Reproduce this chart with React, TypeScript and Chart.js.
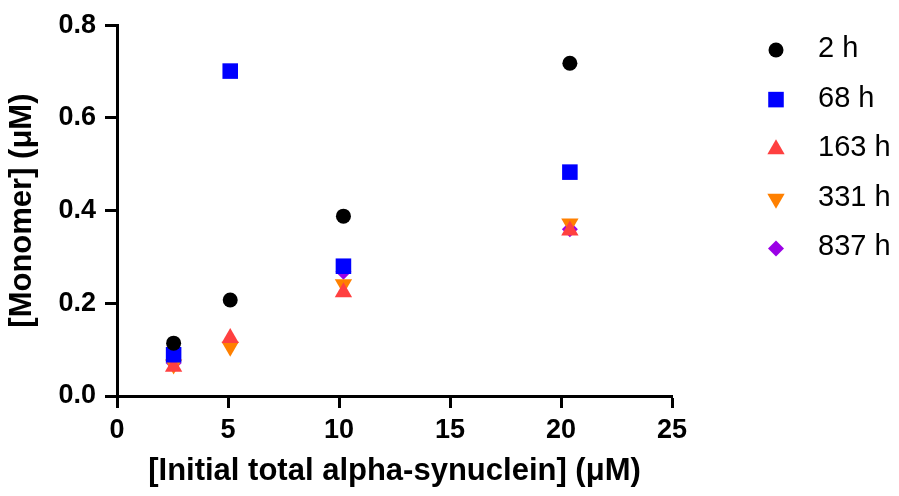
import React, { useEffect, useRef } from "react";
import { Chart, registerables } from "chart.js";

Chart.register(...registerables);

const concentrations = [2.55, 5.1, 10.2, 20.4];
const seriesLabels = ["2 h", "68 h", "163 h", "331 h", "837 h"];
const values2h = [0.114, 0.207, 0.388, 0.718];
const values68h = [0.089, 0.701, 0.28, 0.483];
const values163h = [0.063, 0.125, 0.224, 0.357];
const values331h = [0.068, 0.106, 0.241, 0.372];
const values837h = [0.071, 0.115, 0.268, 0.36];
const xTicks = [0, 5, 10, 15, 20, 25];
const yTicks = [0, 0.2, 0.4, 0.6, 0.8];

const seriesValues = [values2h, values68h, values163h, values331h, values837h];
const colors = ["#000000", "#0000FF", "#FF4040", "#FF8000", "#9B00E6"];
const styles = ["circle", "rect", "triangle", "triangle", "rectRot"];
const rotations = [0, 0, 0, 180, 0];
const radii = [7.5, 11, 10, 10, 8];

const FONT = "'Liberation Sans', Arial, sans-serif";

function drawMarker(ctx: CanvasRenderingContext2D, style: string, x: number, y: number, r: number, rot: number, color: string) {
  ctx.save();
  ctx.fillStyle = color;
  ctx.translate(x, y);
  ctx.rotate((rot * Math.PI) / 180);
  ctx.beginPath();
  if (style === "circle") {
    ctx.arc(0, 0, r, 0, Math.PI * 2);
  } else if (style === "rect") {
    const s = r * Math.SQRT1_2;
    ctx.rect(-s, -s, 2 * s, 2 * s);
  } else if (style === "triangle") {
    ctx.moveTo(0, -r);
    ctx.lineTo(r * Math.sin(Math.PI / 3), r / 2);
    ctx.lineTo(-r * Math.sin(Math.PI / 3), r / 2);
  } else {
    ctx.moveTo(-r, 0);
    ctx.lineTo(0, -r);
    ctx.lineTo(r, 0);
    ctx.lineTo(0, r);
  }
  ctx.closePath();
  ctx.fill();
  ctx.restore();
}

const legendPlugin = {
  id: "customLegend",
  afterDraw(chart: any) {
    const ctx = chart.ctx as CanvasRenderingContext2D;
    ctx.save();
    ctx.font = `29px ${FONT}`;
    ctx.textBaseline = "middle";
    ctx.textAlign = "left";
    ctx.fillStyle = "#000";
    seriesLabels.forEach((label, i) => {
      const y = 50 + i * 49.6;
      drawMarker(ctx, styles[i], 776, y, radii[i], rotations[i], colors[i]);
      ctx.fillText(label, 818, y - 1);
    });
    ctx.restore();
  },
};

export default function App() {
  const ref = useRef<HTMLCanvasElement | null>(null);
  useEffect(() => {
    if (!ref.current) return;
    const chart = new Chart(ref.current, {
      type: "scatter",
      data: {
        datasets: seriesLabels.map((label, i) => ({
          label,
          data: concentrations.map((x, j) => ({ x, y: seriesValues[i][j] })),
          pointStyle: styles[i] as any,
          pointRotation: rotations[i],
          pointRadius: radii[i],
          pointHoverRadius: radii[i],
          backgroundColor: colors[i],
          borderColor: colors[i],
          borderWidth: 0,
          clip: false as any,
        })),
      },
      options: {
        animation: false,
        responsive: false,
        maintainAspectRatio: false,
        events: [],
        layout: { padding: { top: 25, right: 227, left: 0, bottom: 0 } },
        plugins: { legend: { display: false }, tooltip: { enabled: false } },
        scales: {
          x: {
            type: "linear",
            min: 0,
            max: 25,
            afterBuildTicks: (scale: any) => {
              scale.ticks = xTicks.map((v) => ({ value: v }));
            },
            afterFit: (scale: any) => {
              scale.height = 100;
            },
            ticks: {
              color: "#000",
              font: { family: FONT, size: 27, weight: "bold" },
              padding: 6,
              maxRotation: 0,
            },
            grid: {
              display: true,
              drawOnChartArea: false,
              drawTicks: true,
              tickLength: 12,
              tickWidth: 3,
              color: "#000",
            },
            border: { display: true, width: 3, color: "#000" },
            title: {
              display: true,
              text: "[Initial total alpha-synuclein] (μM)",
              color: "#000",
              font: { family: FONT, size: 31, weight: "bold" },
              padding: { top: 0, bottom: 6 },
            },
          },
          y: {
            type: "linear",
            min: 0,
            max: 0.8,
            afterBuildTicks: (scale: any) => {
              scale.ticks = yTicks.map((v) => ({ value: v }));
            },
            afterFit: (scale: any) => {
              scale.width = 117;
            },
            ticks: {
              color: "#000",
              font: { family: FONT, size: 27, weight: "bold" },
              padding: 9,
              callback: (v: any) => Number(v).toFixed(1),
            },
            grid: {
              display: true,
              drawOnChartArea: false,
              drawTicks: true,
              tickLength: 12,
              tickWidth: 3,
              color: "#000",
            },
            border: { display: true, width: 3, color: "#000" },
            title: {
              display: true,
              text: "[Monomer] (μM)",
              color: "#000",
              font: { family: FONT, size: 31, weight: "bold" },
              padding: { top: 4, bottom: 0 },
            },
          },
        },
      },
      plugins: [legendPlugin],
    });
    return () => chart.destroy();
  }, []);
  return (
    <div style={{ position: "fixed", left: 0, top: 0, width: 899, height: 496, background: "#fff" }}>
      <canvas ref={ref} width={899} height={496} style={{ width: 899, height: 496, display: "block" }} />
    </div>
  );
}
